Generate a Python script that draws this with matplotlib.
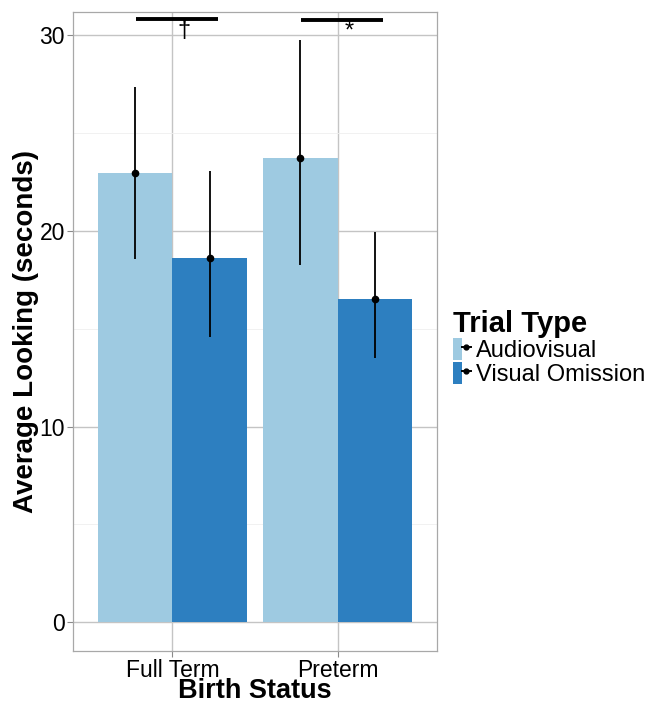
"""Bar chart: average looking time by birth status and trial type (with SE bars)."""
import matplotlib
matplotlib.use("Agg")
import matplotlib.pyplot as plt
import numpy as np
from matplotlib.patches import Patch
from matplotlib.lines import Line2D
from matplotlib.legend_handler import HandlerTuple

plt.rcParams["font.family"] = ["Liberation Sans", "DejaVu Sans"]

groups = ["Full Term", "Preterm"]
trial_types = ["Audiovisual", "Visual Omission"]
means = {"Audiovisual": [22.96, 23.7], "Visual Omission": [18.6, 16.52]}
err_low = {"Audiovisual": [18.55, 18.27], "Visual Omission": [14.6, 13.49]}
err_high = {"Audiovisual": [27.35, 29.75], "Visual Omission": [23.05, 19.94]}
colors = {"Audiovisual": "#9ECAE1", "Visual Omission": "#2D7FC0"}
sig_marks = ["\u2020", "*"]
sig_height = [30.81, 30.76]

fig = plt.figure(figsize=(6.53, 7.03), dpi=100)
ax = fig.add_axes([0.1123, 0.074, 0.5565, 0.9094])

x = np.arange(1, len(groups) + 1)
w = 0.45
for i, tt in enumerate(trial_types):
    pos = x + (i - 0.5) * w
    ax.bar(pos, means[tt], width=w, color=colors[tt], zorder=2)
    ax.vlines(pos, err_low[tt], err_high[tt], color="black", lw=1.3, zorder=3)
    ax.plot(pos, means[tt], "o", color="black", ms=4.5, zorder=4)

# significance brackets
for xi, mark, h in zip(x, sig_marks, sig_height):
    ax.plot([xi - 0.223, xi + 0.275], [h, h], color="black", lw=2.8,
            solid_capstyle="butt", zorder=4)
    ax.text(xi + 0.07, 30.2, mark, ha="center", va="center", fontsize=17, zorder=4)

ax.set_xlim(0.4, 2.6)
ax.set_ylim(-1.47, 31.2)
ax.set_xticks(x)
ax.set_xticklabels(groups)
ax.set_yticks([0, 10, 20, 30])
ax.set_yticks([5, 15, 25], minor=True)
ax.grid(which="major", color="#c4c4c4", lw=1.0, zorder=0)
ax.grid(which="minor", axis="y", color="#efefef", lw=0.6, zorder=0)
ax.set_axisbelow(True)
for s in ax.spines.values():
    s.set_color("#a8a8a8")
    s.set_linewidth(0.9)
ax.tick_params(which="major", length=4, color="#8a8a8a", labelsize=16.5, pad=2)
ax.tick_params(which="minor", length=0)

ax.set_xlabel("Birth Status", fontsize=19.5, fontweight="bold", labelpad=-3)
ax.set_ylabel("Average Looking (seconds)", fontsize=20, fontweight="bold", labelpad=0)

handles = [(Patch(facecolor=colors[tt], edgecolor="none"),
            Line2D([], [], color="black", marker="o", ms=3.5, lw=1.4))
           for tt in trial_types]
leg = fig.legend(handles, trial_types, title="Trial Type", loc="center left",
                 bbox_to_anchor=(0.694, 0.505), frameon=False, fontsize=17,
                 title_fontproperties={"weight": "bold", "size": 21},
                 handler_map={tuple: HandlerTuple(ndivide=None, pad=0)},
                 handlelength=0.75, handleheight=1.05, handletextpad=0.2,
                 labelspacing=0.0, borderaxespad=0, borderpad=0)
leg._legend_box.align = "left"

fig.savefig("out.png", dpi=100)
